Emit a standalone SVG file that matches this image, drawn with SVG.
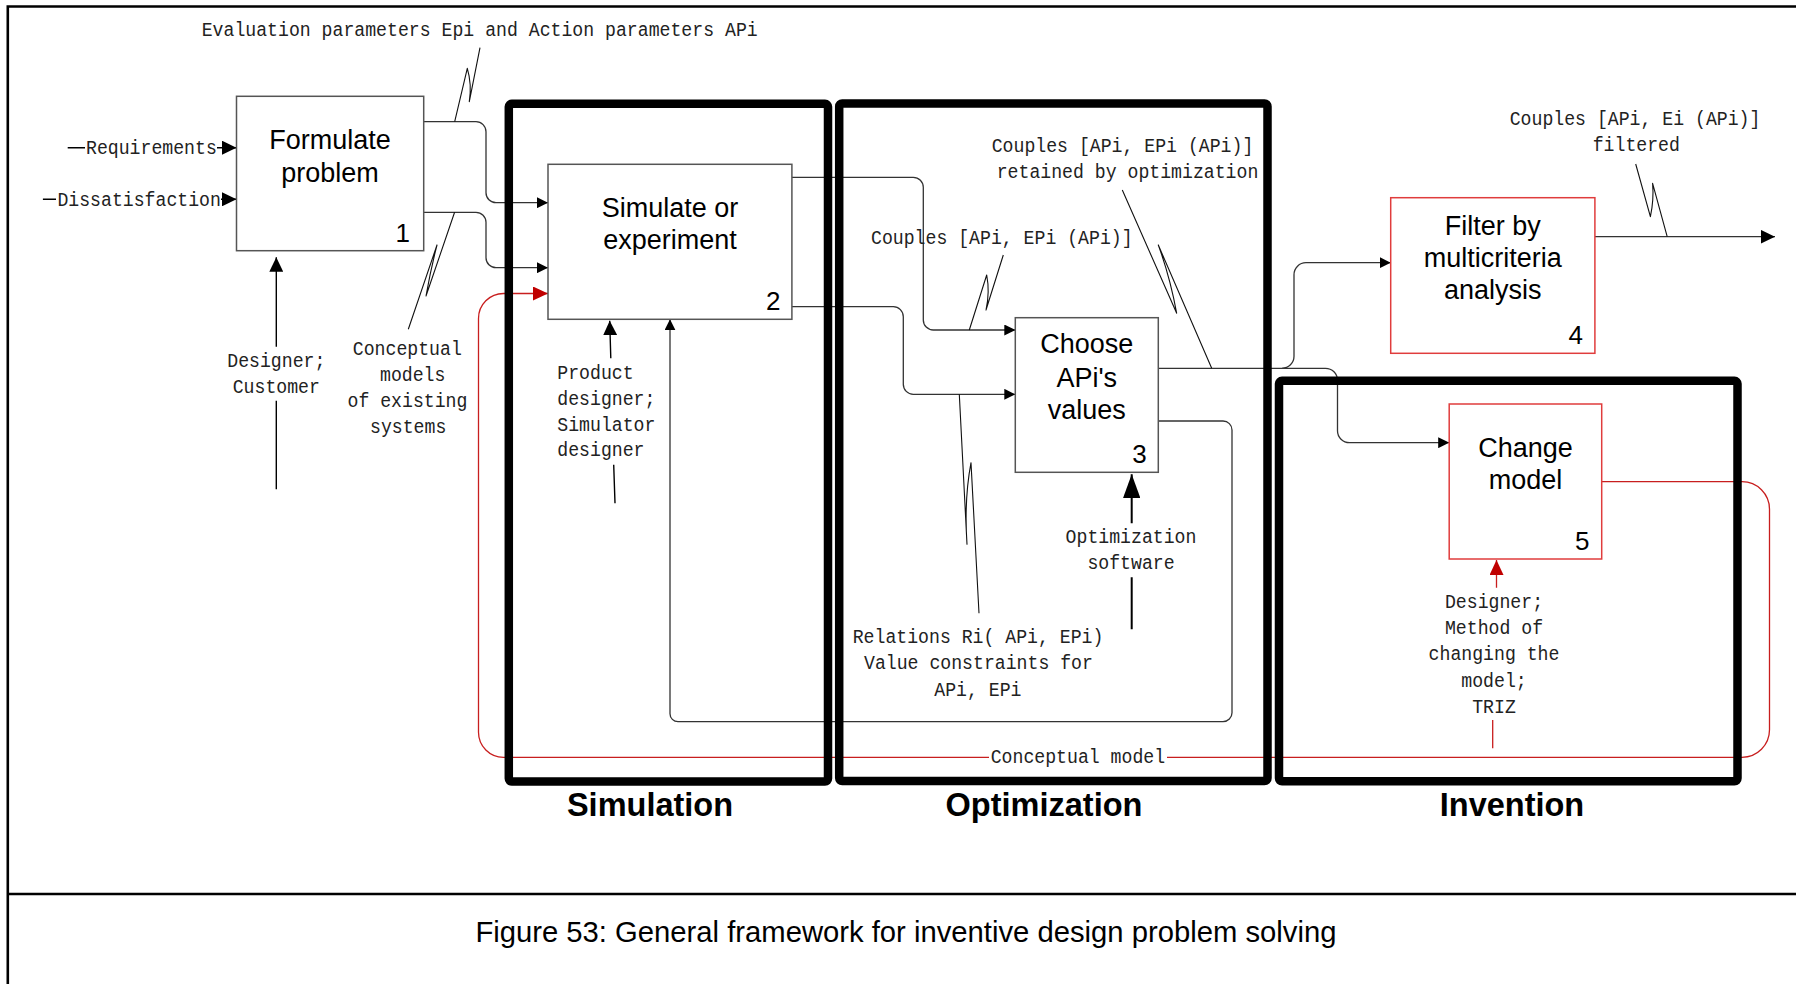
<svg xmlns="http://www.w3.org/2000/svg" width="1796" height="984" viewBox="0 0 1796 984">
<style>
.box{fill:#fff;stroke:#555;stroke-width:1.5}
.rbox{fill:#fff;stroke:#e03c3c;stroke-width:1.5}
.frame{fill:none;stroke:#000;stroke-width:8.5;stroke-linejoin:round}
.t{font-family:"Liberation Sans",Arial,sans-serif;font-size:27px;fill:#000;text-anchor:middle}
.n{font-family:"Liberation Sans",Arial,sans-serif;font-size:26px;fill:#000;text-anchor:end}
.m{font-family:"Liberation Mono","Courier New",monospace;font-size:20px;fill:#222}
.c{text-anchor:middle}
.lbl{font-family:"Liberation Sans",Arial,sans-serif;font-weight:bold;font-size:32.5px;fill:#000;text-anchor:middle}
.conn{fill:none;stroke:#333;stroke-width:1.3}
.blk{fill:none;stroke:#000;stroke-width:1.4}
.red{fill:none;stroke:#c81e1e;stroke-width:1.3}
.sq{fill:none;stroke:#111;stroke-width:1.1;stroke-linejoin:round}
.rule{stroke:#000;stroke-width:2.6;fill:none}
</style>
<defs>
<marker id="arrS" viewBox="0 0 11 11" refX="11" refY="5.5" markerWidth="11" markerHeight="11" markerUnits="userSpaceOnUse" orient="auto"><path d="M0,0 L11,5.5 L0,11 Z" fill="#000"/></marker>
<marker id="arrL" viewBox="0 0 14.5 14" refX="14.5" refY="7" markerWidth="14.5" markerHeight="14" markerUnits="userSpaceOnUse" orient="auto"><path d="M0,0 L14.5,7 L0,14 Z" fill="#000"/></marker>
<marker id="arrR" viewBox="0 0 15 14" refX="15" refY="7" markerWidth="15" markerHeight="14" markerUnits="userSpaceOnUse" orient="auto"><path d="M0,0 L15,7 L0,14 Z" fill="#c00000"/></marker>
<marker id="arrXL" viewBox="0 0 24 17.5" refX="24" refY="8.75" markerWidth="24" markerHeight="17.5" markerUnits="userSpaceOnUse" orient="auto"><path d="M0,0 L24,8.75 L0,17.5 Z" fill="#000"/></marker>
</defs>
<rect x="0" y="0" width="1796" height="984" fill="#fff"/>
<g id="page-frame">
<path class="rule" d="M7.8,984 V6.5 H1796"/>
<path class="rule" d="M7.8,894 H1796"/>
</g>
<g id="connectors">
<path class="blk" d="M67.7,147.7 H85 M217,147.7 H236.5" marker-end="url(#arrL)"/>
<path class="blk" d="M42.9,199.3 H56 M221,199.3 H236.5" marker-end="url(#arrL)"/>
<path class="blk" d="M276.3,489.3 V400.7 M276.3,346.7 V257.3" marker-end="url(#arrL)"/>
<path class="conn" d="M423.7,121.7 H476 A10,10 0 0 1 486,131.7 V192.7 A10,10 0 0 0 496,202.7 H548" marker-end="url(#arrS)"/>
<path class="conn" d="M423.7,212.3 H476 A10,10 0 0 1 486,222.3 V257.7 A10,10 0 0 0 496,267.7 H548" marker-end="url(#arrS)"/>
<path class="blk" d="M615,503.2 L613.7,464.7 M610.8,358.3 L609.7,320.7" marker-end="url(#arrL)"/>
<path class="conn" d="M791.9,177.3 H913.3 A10,10 0 0 1 923.3,187.3 V320 A10,10 0 0 0 933.3,330 H1015.3" marker-end="url(#arrS)"/>
<path class="conn" d="M791.9,306.7 H893.3 A10,10 0 0 1 903.3,316.7 V384.3 A10,10 0 0 0 913.3,394.3 H1015.3" marker-end="url(#arrS)"/>
<path class="conn" d="M1158.3,421 H1223 A9,9 0 0 1 1232,430 V712.7 A9,9 0 0 1 1223,721.7 H678 A8,8 0 0 1 670,713.7 V319.3" marker-end="url(#arrS)"/>
<path class="blk" style="stroke-width:2" d="M1131.7,629.3 V577.3 M1131.7,523.3 V474.3" marker-end="url(#arrXL)"/>
<path class="conn" d="M1158.3,368.3 H1282 A12,12 0 0 0 1294,356.3 V274.7 A12,12 0 0 1 1306,262.7 H1390.7" marker-end="url(#arrS)"/>
<path class="conn" d="M1282,368.3 H1325.5 A12,12 0 0 1 1337.5,380.3 V430.7 A12,12 0 0 0 1349.5,442.7 H1449.2" marker-end="url(#arrS)"/>
<path class="conn" d="M1594.9,236.7 H1775" marker-end="url(#arrL)"/>
<path class="red" d="M1601.7,481.7 H1742 A27.5,27.5 0 0 1 1769.5,509.2 V729.8 A27.5,27.5 0 0 1 1742,757.3 H503.5 A25,25 0 0 1 478.5,732.3 V318.5 A25,25 0 0 1 503.5,293.5 H548" marker-end="url(#arrR)"/>
<path class="red" d="M1492.7,748.3 V720 M1496.5,587.7 V560" marker-end="url(#arrR)"/>
<path class="sq" d="M454.7,121.7 L467.3,68.3 Q472,84 469.3,101.7 L480,47.7"/>
<path class="sq" d="M454.6,212.3 L426,296 Q431,268 437,245 L408.3,329.3"/>
<path class="sq" d="M969.3,330 L986.7,275 Q990,292 986,310 L1003.3,255"/>
<path class="sq" d="M1211.7,368.3 L1158.3,245 Q1170,277 1176.7,313.3 L1122.3,190"/>
<path class="sq" d="M959.3,394.3 L967,544.3 Q964,500 971,462.7 L979,613.3"/>
<path class="sq" d="M1667.2,236.7 L1652.6,183.3 Q1654,200 1650.4,216.7 L1635.7,164"/>
<rect x="989" y="748" width="178" height="19" fill="#fff"/>
</g>
<g id="labels">
<text class="m" x="201.7" y="35.5" textLength="556" lengthAdjust="spacingAndGlyphs">Evaluation parameters Epi and Action parameters APi</text>
<text class="m" x="86" y="154" textLength="130.8" lengthAdjust="spacingAndGlyphs">Requirements</text>
<text class="m" x="57.4" y="205.8" textLength="163.5" lengthAdjust="spacingAndGlyphs">Dissatisfaction</text>
<text class="m c" x="276.3" y="366.7" textLength="98.1" lengthAdjust="spacingAndGlyphs">Designer;</text>
<text class="m c" x="276.3" y="392.7" textLength="87.2" lengthAdjust="spacingAndGlyphs">Customer</text>
<text class="m" x="352.8" y="355" textLength="109" lengthAdjust="spacingAndGlyphs">Conceptual</text>
<text class="m" x="380" y="380.7" textLength="65.4" lengthAdjust="spacingAndGlyphs">models</text>
<text class="m" x="347.5" y="406.7" textLength="119.9" lengthAdjust="spacingAndGlyphs">of existing</text>
<text class="m" x="370" y="433" textLength="76.3" lengthAdjust="spacingAndGlyphs">systems</text>
<text class="m" x="557.3" y="379" textLength="76.3" lengthAdjust="spacingAndGlyphs">Product</text>
<text class="m" x="557.3" y="404.5" textLength="98.1" lengthAdjust="spacingAndGlyphs">designer;</text>
<text class="m" x="557.3" y="430.5" textLength="98.1" lengthAdjust="spacingAndGlyphs">Simulator</text>
<text class="m" x="557.3" y="456.2" textLength="87.2" lengthAdjust="spacingAndGlyphs">designer</text>
<text class="m" x="871" y="244" textLength="261.6" lengthAdjust="spacingAndGlyphs">Couples [APi, EPi (APi)]</text>
<text class="m" x="991.7" y="151.7" textLength="261.6" lengthAdjust="spacingAndGlyphs">Couples [APi, EPi (APi)]</text>
<text class="m" x="996.7" y="178.3" textLength="261.6" lengthAdjust="spacingAndGlyphs">retained by optimization</text>
<text class="m c" x="1131" y="543.3" textLength="130.8" lengthAdjust="spacingAndGlyphs">Optimization</text>
<text class="m c" x="1131" y="569.3" textLength="87.2" lengthAdjust="spacingAndGlyphs">software</text>
<text class="m" x="852.7" y="643.3" textLength="250.7" lengthAdjust="spacingAndGlyphs">Relations Ri( APi, EPi)</text>
<text class="m" x="864" y="669.3" textLength="228.9" lengthAdjust="spacingAndGlyphs">Value constraints for</text>
<text class="m" x="934.3" y="696" textLength="87.2" lengthAdjust="spacingAndGlyphs">APi, EPi</text>
<text class="m" x="1509.7" y="125" textLength="250.7" lengthAdjust="spacingAndGlyphs">Couples [APi, Ei (APi)]</text>
<text class="m" x="1592.7" y="150.7" textLength="87.2" lengthAdjust="spacingAndGlyphs">filtered</text>
<text class="m c" x="1494" y="608.3" textLength="98.1" lengthAdjust="spacingAndGlyphs">Designer;</text>
<text class="m c" x="1494" y="634" textLength="98.1" lengthAdjust="spacingAndGlyphs">Method of</text>
<text class="m c" x="1494" y="660" textLength="130.8" lengthAdjust="spacingAndGlyphs">changing the</text>
<text class="m c" x="1494" y="686.7" textLength="65.4" lengthAdjust="spacingAndGlyphs">model;</text>
<text class="m c" x="1494" y="712.7" textLength="43.6" lengthAdjust="spacingAndGlyphs">TRIZ</text>
<text class="m" x="990.7" y="762.7" textLength="174.4" lengthAdjust="spacingAndGlyphs">Conceptual model</text>
</g>
<g id="node1">
<rect class="box" x="236.5" y="96.3" width="187.2" height="154.4"/>
<text class="t" x="330"><tspan x="330" y="149">Formulate</tspan><tspan x="330" y="181.7">problem</tspan></text>
<text class="n" x="410" y="242">1</text>
</g>
<g id="node2">
<rect class="box" x="548" y="164.3" width="243.9" height="155"/>
<text class="t" x="670"><tspan x="670" y="216.7">Simulate or</tspan><tspan x="670" y="249.3">experiment</tspan></text>
<text class="n" x="780.4" y="310">2</text>
</g>
<g id="node3">
<rect class="box" x="1015.3" y="317.7" width="143" height="154.6"/>
<text class="t" x="1086.8"><tspan x="1086.8" y="353.3">Choose</tspan><tspan x="1086.8" y="386.7">APi's</tspan><tspan x="1086.8" y="419.3">values</tspan></text>
<text class="n" x="1146.7" y="463.3">3</text>
</g>
<g id="node4">
<rect class="rbox" x="1390.7" y="197.7" width="204.2" height="155.6"/>
<text class="t" x="1492.8"><tspan x="1492.8" y="235">Filter by</tspan><tspan x="1492.8" y="266.7">multicriteria</tspan><tspan x="1492.8" y="299.3">analysis</tspan></text>
<text class="n" x="1583" y="344.3">4</text>
</g>
<g id="node5">
<rect class="rbox" x="1449.2" y="404" width="152.5" height="155"/>
<text class="t" x="1525.5"><tspan x="1525.5" y="456.7">Change</tspan><tspan x="1525.5" y="489.3">model</tspan></text>
<text class="n" x="1589.5" y="550">5</text>
</g>
<g id="simulation">
<rect class="frame" x="508.8" y="103.8" width="319.2" height="677.7" rx="3"/>
<text class="lbl" x="650" y="816">Simulation</text>
</g>
<g id="optimization">
<rect class="frame" x="839.2" y="103.5" width="428.3" height="677.5" rx="3"/>
<text class="lbl" x="1044" y="816">Optimization</text>
</g>
<g id="invention">
<rect class="frame" x="1279" y="380.8" width="458.5" height="400.5" rx="3"/>
<text class="lbl" x="1512" y="816">Invention</text>
</g>
<g id="caption">
<text x="475.4" y="942" font-family="'Liberation Sans',Arial,sans-serif" font-size="29" fill="#000" textLength="861" lengthAdjust="spacingAndGlyphs">Figure 53: General framework for inventive design problem solving</text>
</g>
</svg>
